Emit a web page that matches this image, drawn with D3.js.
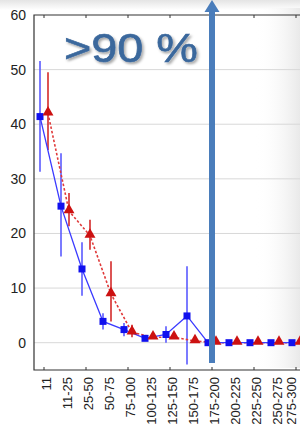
<!DOCTYPE html>
<html>
<head>
<meta charset="utf-8">
<script src="https://cdn.jsdelivr.net/npm/d3@7"></script>
<style>
  body { margin: 0; background: #fff; }
  svg { display: block; font-family: "Liberation Sans", Arial, sans-serif; }
</style>
</head>
<body>
<div id="chart"></div>
<script>
// size classes (mm)
const categories = ["11", "11-25", "25-50", "50-75", "75-100", "100-125", "125-150",
  "150-175", "175-200", "200-225", "225-250", "250-275", "275-300"];

// blue series (squares, solid line)
const blueValues = [41.4, 25.0, 13.5, 3.9, 2.4, 0.8, 1.5, 4.9, 0, 0, 0, 0, 0];
const blueLow    = [31.3, 15.8, 8.6, 2.4, 1.2, null, 0.0, -4.0, null, null, null, null, null];
const blueHigh   = [51.6, 34.7, 18.4, 5.4, 3.6, null, 3.0, 14.0, null, null, null, null, null];

// red series (triangles, dotted line)
const redValues = [42.0, 24.1, 19.6, 8.9, 1.9, 1.0, 1.0, 0.3, 0, 0, 0, 0, 0];
const redLow    = [35.3, 21.3, 17.0, 3.9, 1.0, null, null, null, null, null, null, null, null];
const redHigh   = [49.5, 27.4, 22.5, 14.9, 3.3, null, null, null, null, null, null, null, null];

const yTicks = [0, 10, 20, 30, 40, 50, 60];
const annotation = ">90 %";
const markerCategory = "175-200";

const width = 300, height = 427;
const margin = { top: 15, bottom: 57, left: 34 };

const svg = d3.select('#chart').append('svg')
  .attr('width', width)
  .attr('height', height);

const defs = svg.append('defs');
const grad = defs.append('linearGradient').attr('id', 'bgRight').attr('x1', 0).attr('x2', 1);
grad.append('stop').attr('offset', 0).attr('stop-color', '#fff').attr('stop-opacity', 0);
grad.append('stop').attr('offset', 1).attr('stop-color', '#e9e9e9').attr('stop-opacity', 1);
const gradTop = defs.append('linearGradient').attr('id', 'bgTop').attr('x1', 0).attr('x2', 0).attr('y1', 0).attr('y2', 1);
gradTop.append('stop').attr('offset', 0).attr('stop-color', '#e4e4e4');
gradTop.append('stop').attr('offset', 1).attr('stop-color', '#fff');
const shadow = defs.append('filter').attr('id', 'shadow').attr('x', '-10%').attr('y', '-10%').attr('width', '130%').attr('height', '140%');
shadow.append('feDropShadow').attr('dx', 1.5).attr('dy', 2).attr('stdDeviation', 1.2)
  .attr('flood-color', '#000').attr('flood-opacity', 0.35);
defs.append('clipPath').attr('id', 'plotClip').append('rect')
  .attr('x', margin.left).attr('y', 0).attr('width', width - margin.left).attr('height', height - margin.bottom);

// background
svg.append('rect').attr('x', 0).attr('y', 0).attr('width', width).attr('height', 10).attr('fill', 'url(#bgTop)');
svg.append('rect').attr('x', 255).attr('y', 8).attr('width', 45).attr('height', 360).attr('fill', 'url(#bgRight)');

const x = d3.scalePoint()
  .domain(categories)
  .range([44, 296]);

const y = d3.scaleLinear()
  .domain([-5, 60])
  .range([height - margin.bottom, margin.top]);

const plotRight = width;

// gridlines
svg.append('g')
  .selectAll('line')
  .data(yTicks.filter(d => d < 60))
  .enter().append('line')
  .attr('x1', margin.left).attr('x2', plotRight)
  .attr('y1', d => y(d)).attr('y2', d => y(d))
  .attr('stroke', '#d8d8d8').attr('stroke-width', 1);

// y labels
svg.append('g')
  .selectAll('text')
  .data(yTicks)
  .enter().append('text')
  .attr('x', 26).attr('y', d => y(d))
  .attr('dy', '0.35em')
  .attr('text-anchor', 'end')
  .attr('font-size', 14)
  .attr('fill', '#222')
  .text(d => d);

// frame: left, top, bottom
svg.append('path')
  .attr('d', `M${plotRight},${y(60)}H${margin.left}V${y(-5)}H${plotRight}`)
  .attr('fill', 'none').attr('stroke', '#333').attr('stroke-width', 1.2);

// minor ticks every other category (top and bottom, inward)
const tickCats = categories.filter((d, i) => i % 2 === 0);
svg.append('g').selectAll('line').data(tickCats).enter().append('line')
  .attr('x1', d => x(d)).attr('x2', d => x(d))
  .attr('y1', y(-5)).attr('y2', y(-5) - 3)
  .attr('stroke', '#333');
svg.append('g').selectAll('line').data(tickCats).enter().append('line')
  .attr('x1', d => x(d)).attr('x2', d => x(d))
  .attr('y1', y(60)).attr('y2', y(60) + 3)
  .attr('stroke', '#333');

// x labels
svg.append('g')
  .selectAll('text')
  .data(categories)
  .enter().append('text')
  .attr('transform', d => `translate(${Math.min(x(d) + 2, 291)},${y(-5) + 7}) rotate(-90)`)
  .attr('dy', '0.35em')
  .attr('text-anchor', 'end')
  .attr('font-size', 13)
  .attr('fill', '#222')
  .text(d => d);

const plot = svg.append('g').attr('clip-path', 'url(#plotClip)');

const blueX = d => x(d) - 4;
const redX = d => x(d) + 4;

// blue error bars
plot.append('g').selectAll('line')
  .data(categories.map((c, i) => ({ c, lo: blueLow[i], hi: blueHigh[i] })).filter(d => d.lo !== null))
  .enter().append('line')
  .attr('x1', d => blueX(d.c)).attr('x2', d => blueX(d.c))
  .attr('y1', d => y(d.lo)).attr('y2', d => y(d.hi))
  .attr('stroke', '#5a5aff').attr('stroke-width', 1.6);

// red error bars
plot.append('g').selectAll('line')
  .data(categories.map((c, i) => ({ c, lo: redLow[i], hi: redHigh[i] })).filter(d => d.lo !== null))
  .enter().append('line')
  .attr('x1', d => redX(d.c)).attr('x2', d => redX(d.c))
  .attr('y1', d => y(d.lo)).attr('y2', d => y(d.hi))
  .attr('stroke', '#d42a2a').attr('stroke-width', 1.6);

// red dotted line
const redLine = d3.line().x((d, i) => redX(categories[i])).y(d => y(d));
plot.append('path')
  .attr('d', redLine(redValues))
  .attr('fill', 'none').attr('stroke', '#e03a3a').attr('stroke-width', 1.6)
  .attr('stroke-dasharray', '2.5,2');

// blue solid line
const blueLine = d3.line().x((d, i) => blueX(categories[i])).y(d => y(d));
plot.append('path')
  .attr('d', blueLine(blueValues))
  .attr('fill', 'none').attr('stroke', '#3a3aff').attr('stroke-width', 1.3);

// blue squares
plot.append('g').selectAll('rect')
  .data(blueValues)
  .enter().append('rect')
  .attr('x', (d, i) => blueX(categories[i]) - 3.5)
  .attr('y', d => y(d) - 3.5)
  .attr('width', 7).attr('height', 7)
  .attr('fill', '#1010ee');

// red triangles
const tri = d3.symbol().type(d3.symbolTriangle).size(52);
plot.append('g').selectAll('path')
  .data(redValues)
  .enter().append('path')
  .attr('d', tri)
  .attr('transform', (d, i) => `translate(${redX(categories[i])},${y(d) - 1})`)
  .attr('fill', '#cc1111');

// big annotation
svg.append('text')
  .attr('transform', 'translate(64,62) scale(1.17,1)')
  .attr('font-size', 40)
  .attr('fill', '#3a679c')
  .attr('stroke', '#3a679c')
  .attr('stroke-width', 0.6)
  .attr('filter', 'url(#shadow)')
  .text(annotation);

// arrow at 175-200
const ax = x(markerCategory);
svg.append('line')
  .attr('x1', ax).attr('x2', ax)
  .attr('y1', 363).attr('y2', 10)
  .attr('stroke', '#4a7dbb').attr('stroke-width', 6);
svg.append('path')
  .attr('d', `M${ax - 7.5},12L${ax},0L${ax + 7.5},12Z`)
  .attr('fill', '#4a7dbb');
</script>
</body>
</html>
